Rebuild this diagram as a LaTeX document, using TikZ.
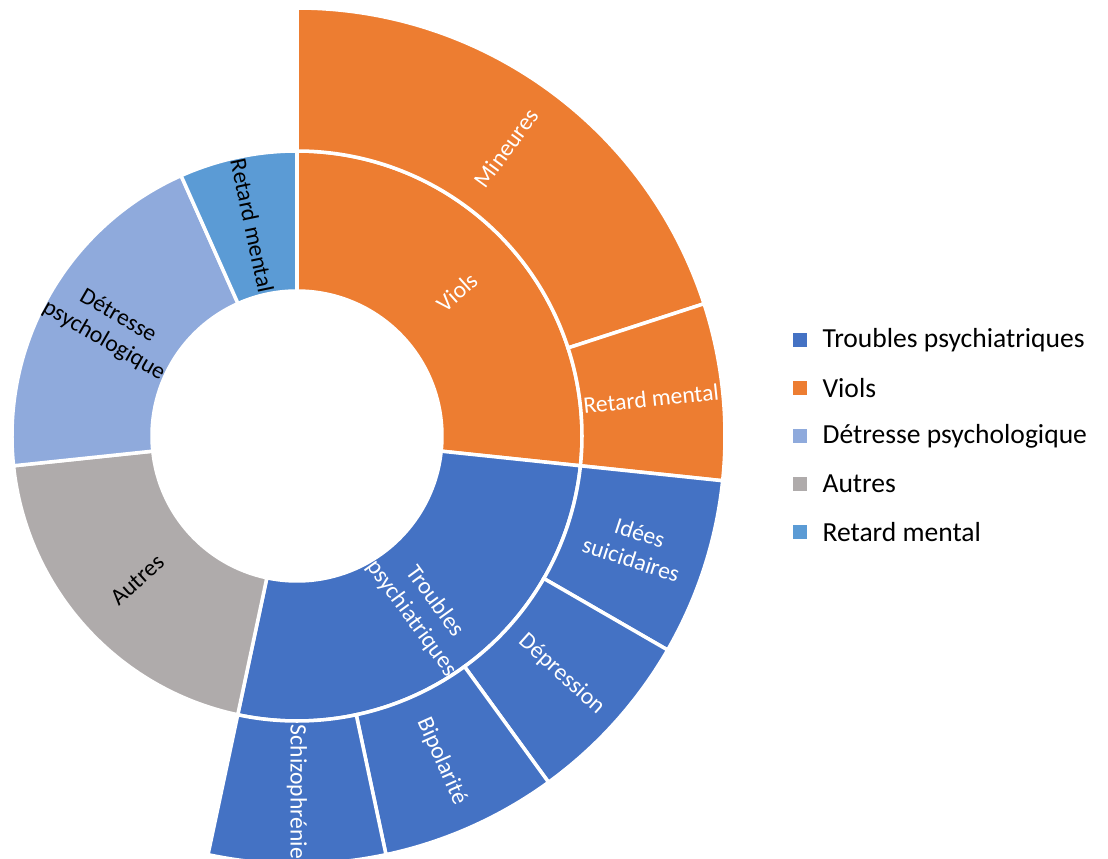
\documentclass[tikz,border=0pt]{standalone}
\usepackage{fontspec}
\setmainfont{Carlito}
\usepackage{xcolor}
\usepackage{tikz}
\usetikzlibrary{positioning}

\definecolor{trouble}{HTML}{4472C4}
\definecolor{viol}{HTML}{ED7D31}
\definecolor{detresse}{HTML}{8FAADC}
\definecolor{autre}{HTML}{AFABAB}
\definecolor{retard}{HTML}{5B9BD5}

% one piece of a ring: start angle, end angle, inner radius, outer radius, colour
\newcommand{\ringpart}[5]{%
  \fill[#5, draw=white, line width=2.5pt] (#1:#3) arc[start angle=#1, end angle=#2, radius=#3]
    -- (#2:#4) arc[start angle=#2, end angle=#1, radius=#4] -- cycle;}

\begin{document}
\begin{tikzpicture}[
    lbl/.style={font=\fontsize{16.8}{20}\selectfont, align=center, inner sep=0pt},
    key/.style={minimum size=0.35cm, inner sep=0pt},
    keytext/.style={font=\fontsize{19.6}{23}\selectfont, inner sep=0pt, anchor=west}]
  \useasboundingbox (-7.425,-10.575) rectangle (20.275,10.9);

  % the inner ring
  \ringpart{90}{-6}{3.625cm}{7.125cm}{viol}
  \ringpart{-6}{-102}{3.625cm}{7.125cm}{trouble}
  \ringpart{-102}{-174}{3.625cm}{7.125cm}{autre}
  \ringpart{186}{114}{3.625cm}{7.125cm}{detresse}
  \ringpart{114}{90}{3.625cm}{7.125cm}{retard}

  % the outer ring
  \ringpart{90}{18}{7.125cm}{10.7cm}{viol}
  \ringpart{18}{-6}{7.125cm}{10.7cm}{viol}
  \foreach \a [evaluate=\a as \b using \a-24] in {-6,-30,-54,-78}
    {\ringpart{\a}{\b}{7.125cm}{10.7cm}{trouble}}

  % the labels of the inner ring
  \node[lbl, white, rotate=42] (viols) at (42:5.375cm) {Viols};
  \node[lbl, white, rotate=-54] (troubles) at (-54:5.375cm) {Troubles\\psychiatriques};
  \node[lbl, rotate=42] (autres) at (222:5.375cm) {Autres};
  \node[lbl, rotate=-30] (detr) at (150:5.375cm) {Détresse\\psychologique};
  \node[lbl, rotate=-78] (retard) at (102:5.375cm) {Retard mental};

  % the labels of the outer ring
  \node[lbl, white, rotate=54] (mineures) at (54:8.9cm) {Mineures};
  \node[lbl, white, rotate=6] (retardviol) at (6:8.9cm) {Retard mental};
  \node[lbl, white, rotate=-18] (idees) at (-18:8.9cm) {Idées\\suicidaires};
  \node[lbl, white, rotate=-42] (depr) at (-42:8.9cm) {Dépression};
  \node[lbl, white, rotate=-66] (bipo) at (-66:8.9cm) {Bipolarité};
  \node[lbl, white, rotate=-90] (schizo) at (-90:8.9cm) {Schizophrénie};

  % the legend
  \foreach \c/\t [count=\i] in {trouble/Troubles psychiatriques, viol/Viols,
      detresse/Détresse psychologique, autre/Autres, retard/Retard mental}
  {
    \node[key, fill=\c] (key\i) at (12.575, 3.6-1.2*\i) {};
    \node[keytext, right=0.375cm of key\i] (name\i) {\t};
  }
\end{tikzpicture}
\end{document}
